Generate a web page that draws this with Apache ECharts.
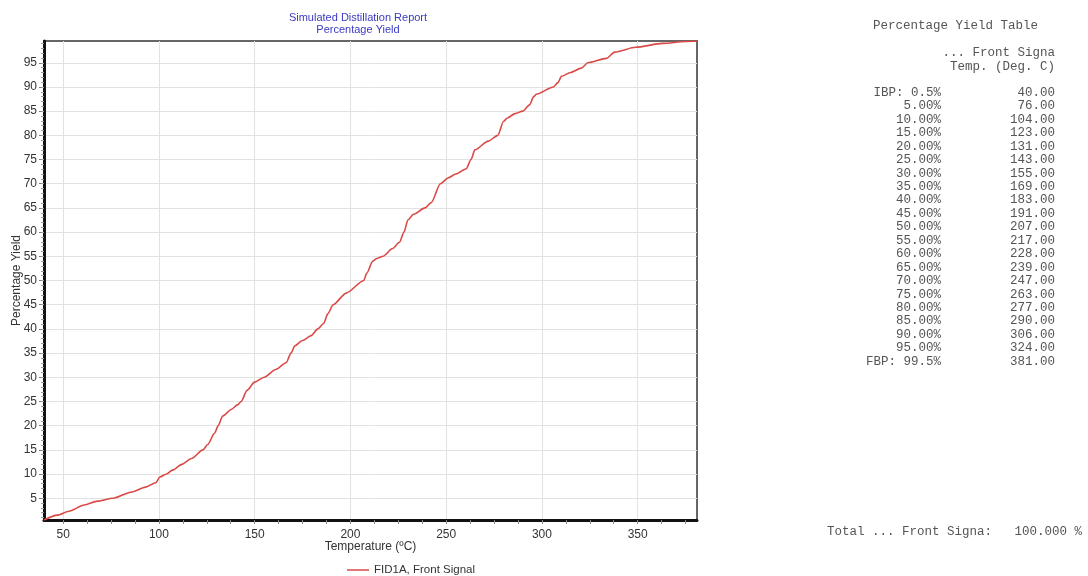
<!DOCTYPE html>
<html>
<head>
<meta charset="utf-8">
<title>Simulated Distillation Report</title>
<script src="https://cdn.jsdelivr.net/npm/echarts@6/dist/echarts.min.js"></script>
<style>
  html, body { margin: 0; padding: 0; background: #ffffff; }
  #chart { width: 1088px; height: 576px; }
</style>
</head>
<body>
<div id="chart"></div>
<script>
// Distillation curve: boiling temperature (°C) vs cumulative yield (%)
const curveTemp = [40, 47, 53, 61, 68, 76, 86, 93, 98.4, 100.5, 104, 107, 112, 117, 123, 125.5, 129, 131, 133.3, 138, 141, 143, 146, 150, 155, 161, 166.4, 169, 171, 175, 179.5, 183, 186, 188.2, 191, 197.8, 207, 208.5, 211.7, 214, 217, 222, 225.6, 228, 230, 233, 239, 242.2, 247, 251, 255, 260.5, 263, 265, 272, 277, 280, 282, 286, 290, 293.6, 295.7, 297, 306, 308.4, 310.2, 315, 320.6, 324, 333.7, 338, 349, 363, 375, 381];
const curveYield = [0.5, 1.5, 2.3, 3.6, 4.4, 5.0, 6.3, 7.3, 8.2, 9.4, 10.0, 10.8, 12.0, 13.2, 15.0, 16.1, 18.4, 20.0, 22.0, 23.4, 24.3, 25.0, 27.3, 29.0, 30.0, 31.6, 33.0, 35.0, 36.5, 37.6, 38.6, 40.0, 41.1, 43.1, 45.0, 47.4, 50.0, 51.5, 54.0, 54.6, 55.0, 56.6, 57.9, 60.0, 62.5, 63.7, 65.0, 66.1, 70.0, 71.2, 72.0, 73.1, 75.0, 77.0, 78.8, 80.0, 82.9, 83.6, 84.5, 85.0, 86.3, 88.0, 88.5, 90.0, 90.9, 92.2, 93.0, 93.9, 95.0, 95.9, 97.2, 98.2, 99.0, 99.4, 99.5];

// Yield table
const tablePct = ['IBP: 0.5%', '5.00%', '10.00%', '15.00%', '20.00%', '25.00%', '30.00%', '35.00%', '40.00%', '45.00%', '50.00%', '55.00%', '60.00%', '65.00%', '70.00%', '75.00%', '80.00%', '85.00%', '90.00%', '95.00%', 'FBP: 99.5%'];
const tableTemp = ['40.00', '76.00', '104.00', '123.00', '131.00', '143.00', '155.00', '169.00', '183.00', '191.00', '207.00', '217.00', '228.00', '239.00', '247.00', '263.00', '277.00', '290.00', '306.00', '324.00', '381.00'];
const totalText = 'Total ... Front Signa:   100.000 %';

// Axis ticks
const xTickValues = [50, 100, 150, 200, 250, 300, 350];
const yTickValues = [5, 10, 15, 20, 25, 30, 35, 40, 45, 50, 55, 60, 65, 70, 75, 80, 85, 90, 95];
const xRange = [40, 381];
const yRange = [0.5, 99.5];

const xMinor = [];
for (let v = 50; v <= xRange[1]; v += 12.5) xMinor.push(v);
const yMinor = [];
for (let v = 1; v <= 99; v += 1) yMinor.push(v);

const seriesData = curveTemp.map((t, i) => [t, curveYield[i]]);

const mono = '"Liberation Mono", "DejaVu Sans Mono", monospace';
const sans = '"Liberation Sans", Arial, sans-serif';
const tableColor = '#555555';

// Right-hand text table
const graphics = [];
graphics.push({ type: 'text', left: 873, top: 19, style: { text: 'Percentage Yield Table', font: '12.5px ' + mono, fill: tableColor } });
graphics.push({ type: 'text', right: 33, top: 46, style: { text: '... Front Signa', font: '12.5px ' + mono, fill: tableColor, textAlign: 'right' } });
graphics.push({ type: 'text', right: 33, top: 60, style: { text: 'Temp. (Deg. C)', font: '12.5px ' + mono, fill: tableColor, textAlign: 'right' } });
tablePct.forEach((p, i) => {
  const y = 86 + i * 13.45;
  graphics.push({ type: 'text', right: 147, top: y, style: { text: p, font: '12.5px ' + mono, fill: tableColor } });
  graphics.push({ type: 'text', right: 33, top: y, style: { text: tableTemp[i], font: '12.5px ' + mono, fill: tableColor } });
});
graphics.push({ type: 'text', left: 827, top: 525, style: { text: totalText, font: '12.5px ' + mono, fill: tableColor } });

const chart = echarts.init(document.getElementById('chart'), null, { renderer: 'canvas' });
chart.setOption({
  animation: false,
  backgroundColor: '#ffffff',
  title: {
    text: 'Simulated Distillation Report\nPercentage Yield',
    left: 353,
    top: 7,
    textAlign: 'center',
    textStyle: { fontFamily: sans, fontSize: 11, fontWeight: 'normal', color: '#3a3ac4', lineHeight: 12 }
  },
  legend: {
    top: 564,
    left: 347,
    icon: 'rect',
    itemWidth: 22,
    itemHeight: 1.5,
    itemGap: 4,
    padding: 0,
    textStyle: { fontFamily: sans, fontSize: 11.5, color: '#333' },
    data: ['FID1A, Front Signal']
  },
  grid: {
    left: 44, right: 391, top: 41, bottom: 56,
    outerBoundsMode: 'none',
    containLabel: false,
    show: true,
    borderColor: '#666',
    borderWidth: 2,
    backgroundColor: '#ffffff'
  },
  xAxis: [{
    type: 'value',
    min: xRange[0], max: xRange[1],
    name: 'Temperature (ºC)',
    nameLocation: 'middle',
    nameGap: 21,
    nameMoveOverlap: false,
    nameTextStyle: { fontFamily: sans, fontSize: 12, color: '#333' },
    axisLine: { show: true, onZero: false, lineStyle: { color: '#111', width: 3 } },
    axisTick: { show: true, customValues: xTickValues, length: 4, lineStyle: { color: '#888' } },
    axisLabel: { customValues: xTickValues, fontFamily: sans, fontSize: 12, color: '#333', margin: 9 },
    splitLine: { show: true, lineStyle: { color: '#e2e2e2', width: 1 } }
  }, {
    type: 'value',
    position: 'bottom',
    min: xRange[0], max: xRange[1],
    axisLine: { show: false },
    axisTick: { show: true, customValues: xMinor, length: 4, lineStyle: { color: '#888' } },
    axisLabel: { show: false },
    splitLine: { show: false }
  }],
  yAxis: [{
    type: 'value',
    min: yRange[0], max: yRange[1],
    name: 'Percentage Yield',
    nameLocation: 'middle',
    nameGap: 21,
    nameMoveOverlap: false,
    nameTextStyle: { fontFamily: sans, fontSize: 12, color: '#333' },
    axisLine: { show: true, onZero: false, lineStyle: { color: '#111', width: 3 } },
    axisTick: { show: true, customValues: yTickValues, length: 5, lineStyle: { color: '#777' } },
    axisLabel: { customValues: yTickValues, fontFamily: sans, fontSize: 12, color: '#333', margin: 7 },
    splitLine: { show: true, lineStyle: { color: '#e2e2e2', width: 1 } }
  }, {
    type: 'value',
    position: 'left',
    offset: 0,
    min: yRange[0], max: yRange[1],
    axisLine: { show: false },
    axisTick: { show: true, customValues: yMinor, length: 3, lineStyle: { color: '#999' } },
    axisLabel: { show: false },
    splitLine: { show: false }
  }],
  series: [{
    name: 'FID1A, Front Signal',
    type: 'line',
    xAxisIndex: 0,
    yAxisIndex: 0,
    data: seriesData,
    showSymbol: false,
    smooth: 0.25,
    smoothMonotone: 'x',
    lineStyle: { color: '#d94a46', width: 1.6 },
    itemStyle: { color: '#d94a46' }
  }],
  graphic: graphics
});
</script>
</body>
</html>
